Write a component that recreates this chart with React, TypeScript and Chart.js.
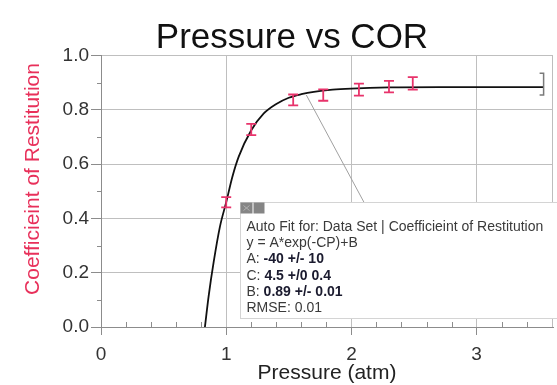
import React, { useEffect, useRef } from 'react';
import { Chart, registerables } from 'chart.js';

Chart.register(...registerables);

const FONT = "'Liberation Sans', Arial, Helvetica, sans-serif";

const chartTitle = 'Pressure vs COR';
const xTitle = 'Pressure (atm)';
const yTitle = 'Coefficieint of Restitution';

// measured data (Pressure in atm, coefficient of restitution, +/- error)
const pressure = [1.0, 1.2, 1.535, 1.775, 2.06, 2.3, 2.49];
const cor = [0.46, 0.728, 0.837, 0.855, 0.875, 0.886, 0.898];
const corErr = [0.019, 0.021, 0.02, 0.021, 0.022, 0.021, 0.023];

// auto-fit curve
const fitP = [0.83, 0.86, 0.9, 0.95, 1.0, 1.05, 1.1, 1.2, 1.3, 1.4, 1.5, 1.6, 1.7, 1.85, 2.0, 2.3, 2.7, 3.535];
const fitY = [0, 0.115, 0.24, 0.37, 0.46, 0.555, 0.628, 0.725, 0.787, 0.822, 0.845, 0.858, 0.867, 0.875, 0.879, 0.883, 0.884, 0.884];

// leader line from the curve to the fit box
const connectorP = [1.64, 2.1];
const connectorY = [0.855, 0.46];

// fit range bracket at end of curve
const bracketP = [3.535];
const bracketY = [0.935, 0.855];

const xTickValues = [0, 1, 2, 3];
const yTickValues = [0, 0.2, 0.4, 0.6, 0.8, 1.0];
const xMinorValues = [0.2, 0.4, 0.6, 0.8, 1.2, 1.4, 1.6, 1.8, 2.2, 2.4, 2.6, 2.8, 3.2, 3.4];
const yMinorValues = [0.1, 0.3, 0.5, 0.7, 0.9];

// fit annotation box
const boxLeftP = 1.108;
const boxTopY = 0.461;
const boxBottomY = 0.033;
const fitLabels = ['Auto Fit for: Data Set | Coefficieint of Restitution', 'y = A*exp(-CP)+B', 'A: ', 'C: ', 'B: ', 'RMSE: 0.01'];
const fitValues = ['', '', '-40 +/- 10', '4.5 +/0 0.4', '0.89 +/- 0.01', ''];

const overlayPlugin = {
  id: 'overlay',
  afterDatasetsDraw(chart: any) {
    const { ctx, chartArea: ca, scales } = chart;
    const x = scales.x;
    const y = scales.y;
    ctx.save();

    // y axis title (placed as in the original, slightly above centre)
    ctx.save();
    ctx.translate(33, 179);
    ctx.rotate(-Math.PI / 2);
    ctx.font = `21px ${FONT}`;
    ctx.fillStyle = '#e8305a';
    ctx.textAlign = 'center';
    ctx.textBaseline = 'middle';
    ctx.fillText(yTitle, 0, 0);
    ctx.restore();

    // minor ticks
    ctx.strokeStyle = '#8c8c8c';
    ctx.lineWidth = 1;
    ctx.beginPath();
    yMinorValues.forEach((v) => {
      const py = Math.round(y.getPixelForValue(v)) + 0.5;
      ctx.moveTo(ca.left - 4, py);
      ctx.lineTo(ca.left, py);
    });
    xMinorValues.forEach((v) => {
      const px = Math.round(x.getPixelForValue(v)) + 0.5;
      ctx.moveTo(px, ca.bottom - 5);
      ctx.lineTo(px, ca.bottom);
    });
    ctx.stroke();

    // right frame
    ctx.strokeStyle = '#bdbdbd';
    ctx.beginPath();
    ctx.moveTo(ca.right - 0.5, ca.top);
    ctx.lineTo(ca.right - 0.5, ca.bottom);
    ctx.stroke();

    // bracket
    {
      const px = x.getPixelForValue(bracketP[0]);
      const t = y.getPixelForValue(bracketY[0]);
      const b = y.getPixelForValue(bracketY[1]);
      ctx.strokeStyle = '#7a7a7a';
      ctx.lineWidth = 1.5;
      ctx.beginPath();
      ctx.moveTo(px - 4, t);
      ctx.lineTo(px, t);
      ctx.lineTo(px, b);
      ctx.lineTo(px - 4, b);
      ctx.stroke();
    }

    // error bars
    ctx.strokeStyle = '#e8336b';
    ctx.lineWidth = 1.8;
    pressure.forEach((p, i) => {
      const px = x.getPixelForValue(p);
      const t = y.getPixelForValue(cor[i] + corErr[i]);
      const b = y.getPixelForValue(cor[i] - corErr[i]);
      ctx.beginPath();
      ctx.moveTo(px, t);
      ctx.lineTo(px, b);
      ctx.moveTo(px - 5, t);
      ctx.lineTo(px + 5, t);
      ctx.moveTo(px - 5, b);
      ctx.lineTo(px + 5, b);
      ctx.stroke();
    });

    // fit box
    const left = Math.round(x.getPixelForValue(boxLeftP)) + 0.5;
    const top = Math.round(y.getPixelForValue(boxTopY)) + 0.5;
    const bottom = Math.round(y.getPixelForValue(boxBottomY)) + 0.5;
    const right = chart.width + 2;
    ctx.fillStyle = '#ffffff';
    ctx.fillRect(left, top, right - left, bottom - top);
    ctx.strokeStyle = '#d4d4d4';
    ctx.lineWidth = 1;
    ctx.strokeRect(left, top, right - left, bottom - top);

    // icons
    ctx.fillStyle = '#858585';
    ctx.fillRect(left, top, 12, 11);
    ctx.fillRect(left + 13, top, 11, 11);
    ctx.strokeStyle = '#b0b0b0';
    ctx.beginPath();
    ctx.moveTo(left + 3, top + 3);
    ctx.lineTo(left + 9, top + 8);
    ctx.moveTo(left + 9, top + 3);
    ctx.lineTo(left + 3, top + 8);
    ctx.stroke();

    ctx.textBaseline = 'middle';
    ctx.textAlign = 'left';
    fitLabels.forEach((label, i) => {
      const ty = top + 24.5 + i * 16.3;
      ctx.font = `14px ${FONT}`;
      ctx.fillStyle = '#3a3a3a';
      ctx.fillText(label, left + 6, ty);
      if (fitValues[i]) {
        const w = ctx.measureText(label).width;
        ctx.font = `bold 14px ${FONT}`;
        ctx.fillStyle = '#1a1a2e';
        ctx.fillText(fitValues[i], left + 6 + w, ty);
      }
    });

    ctx.restore();
  },
};

export default function App() {
  const canvasRef = useRef<HTMLCanvasElement | null>(null);

  useEffect(() => {
    const canvas = canvasRef.current;
    if (!canvas) return;
    const chart = new Chart(canvas, {
      type: 'scatter',
      data: {
        datasets: [
          {
            label: 'Auto Fit',
            data: fitP.map((p, i) => ({ x: p, y: fitY[i] })),
            showLine: true,
            borderColor: '#111111',
            borderWidth: 1.8,
            pointRadius: 0,
            cubicInterpolationMode: 'monotone',
          } as any,
          {
            label: 'connector',
            data: connectorP.map((p, i) => ({ x: p, y: connectorY[i] })),
            showLine: true,
            borderColor: '#a0a0a0',
            borderWidth: 1,
            pointRadius: 0,
          } as any,
          {
            label: yTitle,
            data: pressure.map((p, i) => ({ x: p, y: cor[i] })),
            showLine: false,
            pointRadius: 0,
            borderColor: '#e8336b',
          } as any,
        ],
      },
      options: {
        responsive: false,
        animation: false,
        devicePixelRatio: 1,
        layout: { padding: { left: 31, right: 4, top: 0, bottom: 0 } },
        plugins: {
          legend: { display: false },
          tooltip: { enabled: false },
          title: {
            display: true,
            text: chartTitle,
            color: '#111111',
            font: { family: FONT, size: 35, weight: 'normal' },
            padding: { top: 17, bottom: -3.3 },
          },
        },
        scales: {
          x: {
            type: 'linear',
            min: 0,
            max: 3.61,
            afterBuildTicks: (s: any) => {
              s.ticks = xTickValues.map((v) => ({ value: v }));
            },
            afterFit: (s: any) => {
              s.height = 58;
            },
            grid: { color: '#bfbfbf', tickColor: '#8c8c8c', tickLength: 8, lineWidth: 1 },
            border: { color: '#8c8c8c' },
            ticks: {
              color: '#333333',
              font: { family: FONT, size: 19 },
              padding: 8,
              maxRotation: 0,
              callback: (v: any) => String(v),
            },
            title: {
              display: true,
              text: xTitle,
              color: '#222222',
              font: { family: FONT, size: 21 },
              padding: { top: 0, bottom: -1 },
            },
          },
          y: {
            type: 'linear',
            min: 0,
            max: 1,
            afterBuildTicks: (s: any) => {
              s.ticks = yTickValues.map((v) => ({ value: v }));
            },
            afterFit: (s: any) => {
              s.width = 70;
            },
            grid: { color: '#bfbfbf', tickColor: '#8c8c8c', tickLength: 10, lineWidth: 1 },
            border: { color: '#8c8c8c' },
            ticks: {
              color: '#333333',
              font: { family: FONT, size: 19 },
              padding: 2,
              callback: (v: any) => Number(v).toFixed(1),
            },
            title: { display: false, text: yTitle },
          },
        },
      } as any,
      plugins: [overlayPlugin],
    });
    return () => chart.destroy();
  }, []);

  return (
    <div style={{ position: 'absolute', left: 0, top: 0, width: 557, height: 385, background: '#ffffff' }}>
      <canvas ref={canvasRef} width={557} height={385} style={{ display: 'block', width: 557, height: 385 }} />
    </div>
  );
}
